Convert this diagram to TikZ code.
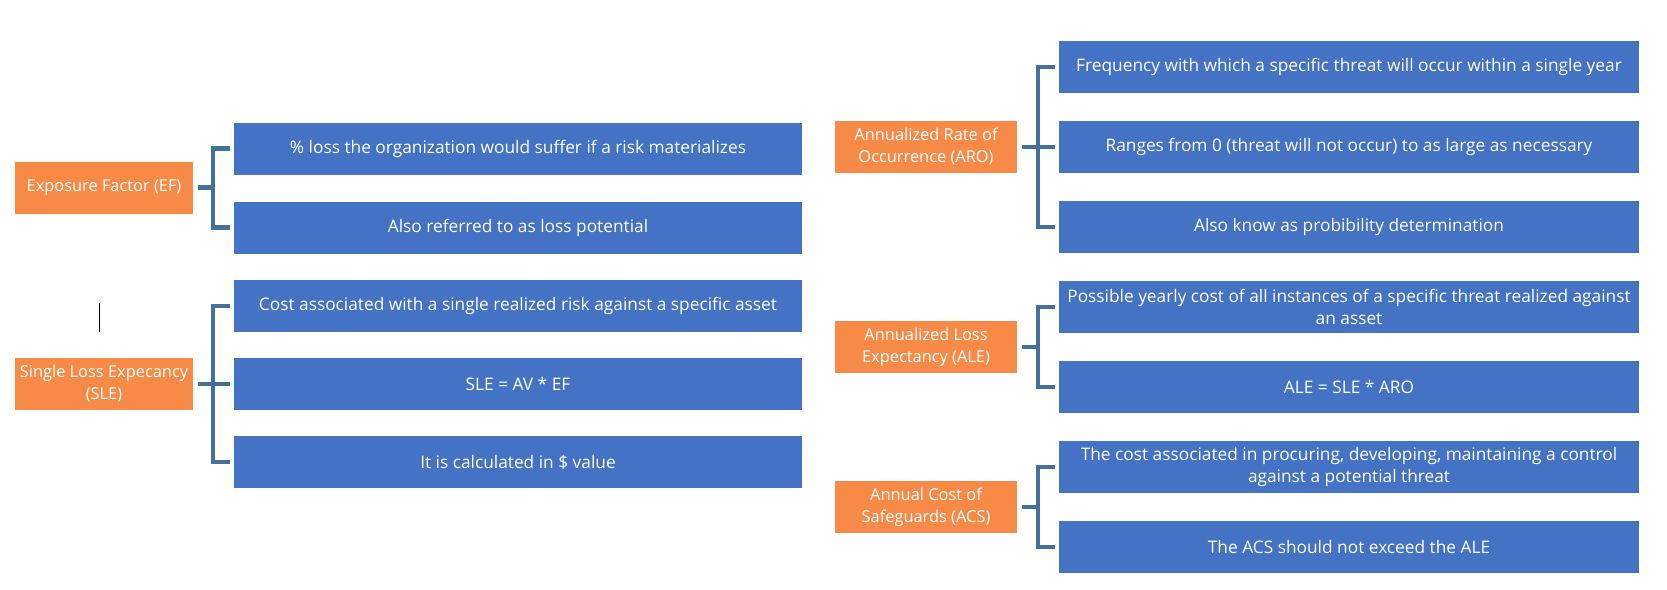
\documentclass[tikz,border=0pt]{standalone}
\usepackage{fontspec}
\setmainfont{Open Sans}
\usepackage{xcolor}
\definecolor{orangeSA}{RGB}{246,138,70}
\definecolor{bleuSA}{RGB}{68,114,196}
\definecolor{traitSA}{RGB}{65,113,156}

\begin{document}
\begin{tikzpicture}[x=1pt, y=-1pt,
  titre/.style={fill=orangeSA, text=white, inner sep=0pt, minimum height=52pt, align=center,
    font=\fontsize{16.4}{22}\selectfont},
  bleu/.style={fill=bleuSA, text=white, inner sep=0pt, minimum height=52pt, align=center,
    font=\fontsize{17.3}{22.5}\selectfont},
  crochet/.style={traitSA, line width=4.5pt}]
  \useasboundingbox (0,0) rectangle (1667,589);

  % Les titres en orange
  \node[titre, minimum width=178pt] (ef) at (104,187.5) {Exposure Factor (EF)};
  \node[titre, minimum width=178pt] (sle) at (104,384) {Single Loss Expecancy\\(SLE)};
  \node[titre, minimum width=182pt] (aro) at (926,147) {Annualized Rate of\\Occurrence (ARO)};
  \node[titre, minimum width=182pt] (ale) at (926,347) {Annualized Loss\\Expectancy (ALE)};
  \node[titre, minimum width=182pt] (acs) at (926,507) {Annual Cost of\\Safeguards (ACS)};

  % Les definitions a gauche
  \foreach \y/\nom/\lab in {148.5/ef1/{\% loss the organization would suffer if a risk materializes},
      227.5/ef2/{Also referred to as loss potential},
      306/sle1/{Cost associated with a single realized risk against a specific asset},
      384/sle2/{SLE = AV * EF},
      462/sle3/{It is calculated in \$ value}} {
    \node[bleu, minimum width=568pt] (\nom) at (518,\y) {\lab};
  }

  % Les definitions a droite
  \foreach \y/\nom/\lab in {67/aro1/{Frequency with which a specific threat will occur within a single year},
      147/aro2/{Ranges from 0 (threat will not occur) to as large as necessary},
      227/aro3/{Also know as probibility determination},
      307/ale1/{Possible yearly cost of all instances of a specific threat realized against\\an asset},
      387/ale2/{ALE = SLE * ARO},
      467/acs1/{The cost associated in procuring, developing, maintaining a control\\against a potential threat},
      547/acs2/{The ACS should not exceed the ALE}} {
    \node[bleu, minimum width=580pt] (\nom) at (1349,\y) {\lab};
  }

  % Les crochets
  \coordinate (ef-j) at (213,187.5);
  \coordinate (sle-j) at (213,384);
  \coordinate (aro-j) at (1038,147);
  \coordinate (ale-j) at (1038,347);
  \coordinate (acs-j) at (1038,507);
  \foreach \tete/\fils in {ef/{ef1,ef2}, sle/{sle1,sle2,sle3}, aro/{aro1,aro2,aro3}, ale/{ale1,ale2}, acs/{acs1,acs2}} {
    \draw[crochet, shorten <=5pt] (\tete) -- (\tete-j);
    \foreach \nom in \fils {
      \draw[crochet, shorten >=4pt] (\tete-j) |- (\nom.west);
    }
  }

  % Le curseur
  \draw[line width=1pt] (99,303) -- (99,332);
\end{tikzpicture}
\end{document}
